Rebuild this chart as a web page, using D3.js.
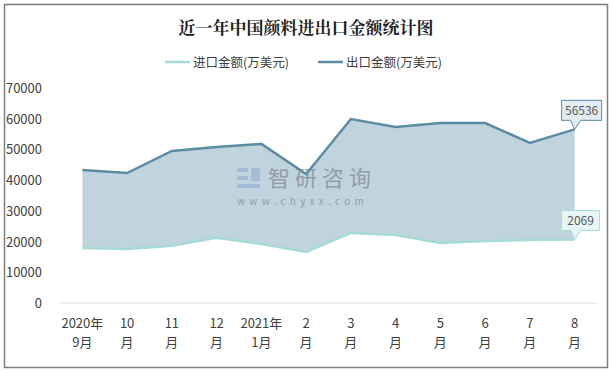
<!DOCTYPE html>
<html lang="zh">
<head>
<meta charset="UTF-8">
<title>近一年中国颜料进出口金额统计图</title>
<script src="https://cdn.jsdelivr.net/npm/d3@7"></script>
<style>
  body { margin: 0; background: #fff; }
  text { font-family: "Microsoft YaHei", "Noto Sans CJK SC", sans-serif; }
</style>
</head>
<body>
<div id="chart"></div>
<script>
var months = ["2020年|9月", "10|月", "11|月", "12|月", "2021年|1月", "2|月", "3|月", "4|月", "5|月", "6|月", "7|月", "8|月"];
var importVals = [17900, 17600, 18600, 21200, 19200, 16600, 22800, 22100, 19500, 20200, 20500, 20690];
var exportVals = [43300, 42300, 49500, 50800, 51800, 42000, 59900, 57300, 58600, 58600, 52100, 56536];
var yTicks = [0, 10000, 20000, 30000, 40000, 50000, 60000, 70000];
var seriesNames = ["进口金额(万美元)", "出口金额(万美元)"];
var lastLabels = ["2069", "56536"];

var width = 613, height = 371;
var importColor = "#a5dad6", exportColor = "#5c8ca4";

var svg = d3.select("#chart").append("svg")
    .attr("width", width)
    .attr("height", height);

svg.append("rect")
    .attr("x", 4.5).attr("y", 4.5)
    .attr("width", 603).attr("height", 363)
    .attr("fill", "#fff")
    .attr("stroke", "#7f7f7f")
    .attr("stroke-width", 1.5);

svg.append("text")
    .attr("x", 306).attr("y", 34)
    .attr("text-anchor", "middle")
    .style("font-family", "'Noto Serif CJK SC', 'Noto Sans CJK SC', serif")
    .attr("font-size", 17)
    .attr("font-weight", "bold")
    .attr("fill", "#222")
    .text("近一年中国颜料进出口金额统计图");

// legend
var legend = svg.append("g");
[[165, importColor, seriesNames[0]], [318, exportColor, seriesNames[1]]].forEach(function(d) {
  legend.append("line")
      .attr("x1", d[0]).attr("x2", d[0] + 25)
      .attr("y1", 62).attr("y2", 62)
      .attr("stroke", d[1]).attr("stroke-width", 2.5);
  legend.append("text")
      .attr("x", d[0] + 28).attr("y", 66.5)
      .attr("font-size", 12.5)
      .attr("fill", "#404040")
      .text(d[2]);
});

var x = d3.scaleBand().domain(months).range([60, 597]);
var y = d3.scaleLinear().domain([0, 70000]).range([303, 88]);
var cx = function(i) { return x(months[i]) + x.bandwidth() / 2; };

// y tick labels
svg.append("g").selectAll("text")
    .data(yTicks)
    .join("text")
    .attr("x", 42)
    .attr("y", function(d) { return y(d) + 5; })
    .attr("text-anchor", "end")
    .attr("font-size", 13)
    .attr("fill", "#404040")
    .text(function(d) { return d; });

// baseline
svg.append("line")
    .attr("x1", 60).attr("x2", 597)
    .attr("y1", y(0)).attr("y2", y(0))
    .attr("stroke", "#d9d9d9").attr("stroke-width", 1);

// x labels
var xl = svg.append("g").selectAll("text")
    .data(months)
    .join("text")
    .attr("text-anchor", "middle")
    .attr("font-size", 13)
    .attr("fill", "#404040");
xl.append("tspan")
    .attr("x", function(d, i) { return cx(i); })
    .attr("y", 328)
    .text(function(d) { return d.split("|")[0]; });
xl.append("tspan")
    .attr("x", function(d, i) { return cx(i); })
    .attr("y", 347)
    .text(function(d) { return d.split("|")[1]; });

// band between the two series
var area = d3.area()
    .x(function(d, i) { return cx(i); })
    .y0(function(d, i) { return y(importVals[i]); })
    .y1(function(d) { return y(d); });
svg.append("path")
    .datum(exportVals)
    .attr("d", area)
    .attr("fill", "#bfd4dd");

// watermark
var wm = svg.append("g").attr("opacity", 0.85);
wm.append("rect").attr("x", 237).attr("y", 168).attr("width", 11).attr("height", 4).attr("fill", "#9fb8d6");
wm.append("rect").attr("x", 237).attr("y", 176).attr("width", 11).attr("height", 4).attr("fill", "#9fb8d6");
wm.append("rect").attr("x", 237).attr("y", 184).attr("width", 23).attr("height", 4).attr("fill", "#9fb8d6");
wm.append("rect").attr("x", 251).attr("y", 168).attr("width", 9).attr("height", 13).attr("fill", "#9fb8d6");
wm.append("text")
    .attr("x", 268).attr("y", 186)
    .attr("font-size", 22)
    .attr("fill", "#8a949c")
    .attr("letter-spacing", 5)
    .text("智研咨询");
wm.append("text")
    .attr("x", 237).attr("y", 205)
    .attr("font-size", 10)
    .attr("fill", "#8a949c")
    .attr("letter-spacing", 4.3)
    .text("www.chyxx.com");

var line = d3.line()
    .x(function(d, i) { return cx(i); })
    .y(function(d) { return y(d); });

svg.append("path")
    .datum(importVals)
    .attr("d", line)
    .attr("fill", "none")
    .attr("stroke", importColor)
    .attr("stroke-width", 2.5);

svg.append("path")
    .datum(exportVals)
    .attr("d", line)
    .attr("fill", "none")
    .attr("stroke", exportColor)
    .attr("stroke-width", 2.5);

// callouts on the last point
function callout(val, label, stroke, fill, w) {
  var px = cx(months.length - 1), py = y(val);
  var bx = px - 13, by = py - 29, bh = 20;
  var p = "M" + bx + "," + by + "h" + w + "v" + bh + "h" + (-(w - 19)) +
          "L" + px + "," + py + "L" + (px - 4) + "," + (by + bh) + "H" + bx + "Z";
  svg.append("path")
      .attr("d", p)
      .attr("fill", fill)
      .attr("stroke", stroke)
      .attr("stroke-width", 1)
      .attr("stroke-linejoin", "round");
  svg.append("text")
      .attr("x", bx + w / 2).attr("y", by + 14.5)
      .attr("text-anchor", "middle")
      .attr("font-size", 12)
      .attr("fill", "#595959")
      .text(label);
}
callout(exportVals[11], lastLabels[1], exportColor, "#e3ecf1", 40);
callout(importVals[11], lastLabels[0], importColor, "#e7f6f5", 38);
</script>
</body>
</html>
